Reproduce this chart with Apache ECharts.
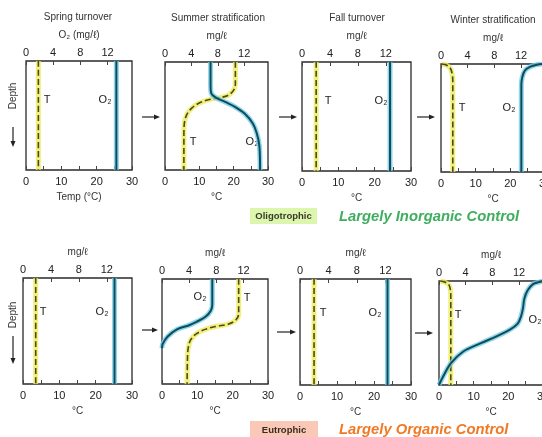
<!DOCTYPE html>
<html><head><meta charset="utf-8">
<script src="https://cdn.jsdelivr.net/npm/echarts@6/dist/echarts.min.js"></script>
<style>html,body{margin:0;padding:0;background:#fff}#c{width:542px;height:437px}</style>
</head><body><div id="c"></div>
<script>
// ---------- DATA (depth in % of lake depth, 0 = surface) ----------
const tempTickLabels = [0, 10, 20, 30];          // °C
const o2TickLabels = [0, 4, 8, 12];              // mg/ℓ
const panelTitles = ['Spring turnover', 'Summer stratification', 'Fall turnover', 'Winter stratification', '', '', '', ''];

// Oligotrophic – spring turnover
const oSpringTDepth = [0, 100];
const oSpringT = [3.5, 3.5];
const oSpringO2Depth = [0, 100];
const oSpringO2 = [13.3, 13.3];
// Oligotrophic – summer stratification
const oSummerTDepth = [0, 20, 26, 31, 33, 35, 38.5, 43, 49, 58, 70, 100];
const oSummerT = [20.5, 20.5, 20, 18.3, 16, 12.6, 9.7, 7.7, 6.3, 5.6, 5.5, 5.5];
const oSummerO2Depth = [0, 22, 29, 33, 37, 41.5, 48, 57, 66, 78, 100];
const oSummerO2 = [6.9, 6.9, 7.0, 7.7, 9.1, 10.6, 12.1, 13.3, 13.9, 14.3, 14.4];
// Oligotrophic – fall turnover
const oFallTDepth = [0, 100];
const oFallT = [3.9, 3.9];
const oFallO2Depth = [0, 100];
const oFallO2 = [12.6, 12.6];
// Oligotrophic – winter stratification
const oWinterTDepth = [0, 1, 4, 9, 15, 100];
const oWinterT = [0.3, 1.5, 2.7, 3.2, 3.4, 3.4];
const oWinterO2Depth = [0, 0, 0.6, 2.5, 6, 12, 19.5, 100];
const oWinterO2 = [16.5, 15.4, 14.4, 13.4, 12.6, 12.2, 12.05, 12.05];

// Eutrophic – spring turnover
const eSpringTDepth = [0, 100];
const eSpringT = [3.5, 3.5];
const eSpringO2Depth = [0, 100];
const eSpringO2 = [13.1, 13.1];
// Eutrophic – summer stratification
const eSummerTDepth = [0, 33, 39, 43, 45, 47.5, 52, 58, 66, 77, 100];
const eSummerT = [21.7, 21.7, 20.9, 18.7, 15.4, 12.6, 9.8, 8.1, 7.4, 7.2, 7.1];
const eSummerO2Depth = [0, 24, 30, 36, 41, 44, 48, 55, 62, 66];
const eSummerO2 = [7.4, 7.4, 7.2, 6.4, 5.0, 4.0, 2.2, 0.8, 0.1, 0];
// Eutrophic – fall turnover
const eFallTDepth = [0, 100];
const eFallT = [3.8, 3.8];
const eFallO2Depth = [0, 100];
const eFallO2 = [12.3, 12.3];
// Eutrophic – winter stratification
const eWinterTDepth = [0, 1, 4, 9, 14, 100];
const eWinterT = [0.4, 1.6, 2.9, 3.3, 3.4, 3.4];
const eWinterO2Depth = [0, 1, 3, 9, 17, 26, 34, 41, 46.5, 53, 60, 68, 79, 92, 100];
const eWinterO2 = [15.8, 15.0, 14.1, 13.3, 12.8, 12.6, 12.3, 11.8, 10.7, 8.7, 6.2, 3.6, 1.8, 0.6, 0];

const panelData = [
  [oSpringT, oSpringTDepth, oSpringO2, oSpringO2Depth],
  [oSummerT, oSummerTDepth, oSummerO2, oSummerO2Depth],
  [oFallT, oFallTDepth, oFallO2, oFallO2Depth],
  [oWinterT, oWinterTDepth, oWinterO2, oWinterO2Depth],
  [eSpringT, eSpringTDepth, eSpringO2, eSpringO2Depth],
  [eSummerT, eSummerTDepth, eSummerO2, eSummerO2Depth],
  [eFallT, eFallTDepth, eFallO2, eFallO2Depth],
  [eWinterT, eWinterTDepth, eWinterO2, eWinterO2Depth]
];

// ---------- LAYOUT ----------
const FONT = 'Liberation Sans';
const boxes = [ // left, top, width, height
  [26, 61, 106, 109], [165, 62, 103, 108], [302, 62, 109, 109], [441, 64, 104, 108],
  [23, 278, 109, 106], [162, 279, 106, 105], [300, 279, 111, 106], [439, 281, 104, 104]
];
const O2MAX = 15.6;

const grid = [], xAxis = [], yAxis = [], series = [];
const zip = (v, d) => v.map((x, i) => [x, d[i]]);

boxes.forEach((b, i) => {
  grid.push({left: b[0], top: b[1], width: b[2], height: b[3], show: true,
    outerBoundsMode: 'none', containLabel: false,
    borderColor: '#2a2a2a', borderWidth: 1.3, backgroundColor: 'transparent'});
  xAxis.push({ // temperature, bottom
    gridIndex: i, type: 'value', position: 'bottom', min: 0, max: 30, interval: 5,
    name: i === 0 ? 'Temp (°C)' : '°C', nameLocation: 'middle', nameGap: 22,
    nameTextStyle: {fontFamily: FONT, fontSize: 10, color: '#333'},
    axisLine: {show: false, onZero: false}, splitLine: {show: false}, minorTick: {show: false},
    axisTick: {show: true, inside: true, length: 4, lineStyle: {color: '#444'}},
    axisLabel: {fontFamily: FONT, fontSize: 11, color: '#222', margin: 6,
      formatter: v => tempTickLabels.includes(v) ? String(v) : ''}
  });
  xAxis.push({ // oxygen, top
    gridIndex: i, type: 'value', position: 'top', min: 0, max: O2MAX, interval: 4,
    name: i === 0 ? 'O₂ (mg/ℓ)' : 'mg/ℓ', nameLocation: 'middle', nameGap: 21,
    nameTextStyle: {fontFamily: FONT, fontSize: 10, color: '#333'},
    axisLine: {show: false, onZero: false}, splitLine: {show: false}, minorTick: {show: false},
    axisTick: {show: true, inside: true, length: 4, lineStyle: {color: '#444'}},
    axisLabel: {fontFamily: FONT, fontSize: 11, color: '#222', margin: 3, showMaxLabel: false,
      formatter: v => o2TickLabels.includes(v) ? String(v) : ''}
  });
  yAxis.push({gridIndex: i, type: 'value', min: 0, max: 100, inverse: true, show: false});

  const [T, Td, O, Od] = panelData[i];
  const common = {type: 'line', yAxisIndex: i, showSymbol: false, symbol: 'none', smooth: 0.35, animation: false, silent: true};
  series.push(Object.assign({}, common, {xAxisIndex: 2 * i, data: zip(T, Td),
    lineStyle: {color: 'rgba(238,236,90,0.8)', width: 5}}));
  series.push(Object.assign({}, common, {xAxisIndex: 2 * i, data: zip(T, Td),
    lineStyle: {color: '#4b4a1e', width: 1.6, type: [6, 3]}}));
  series.push(Object.assign({}, common, {xAxisIndex: 2 * i + 1, data: zip(O, Od),
    lineStyle: {color: 'rgba(110,205,230,0.8)', width: 5}}));
  series.push(Object.assign({}, common, {xAxisIndex: 2 * i + 1, data: zip(O, Od),
    lineStyle: {color: '#124a5a', width: 2}}));
});

// ---------- ANNOTATIONS ----------
const graphic = [];
const txt = (x, y, s, o) => graphic.push(Object.assign({type: 'text', x, y,
  style: Object.assign({text: s, fontFamily: FONT, fontSize: 11, fill: '#222', align: 'center', verticalAlign: 'middle'}, o || {})}));

// panel titles
const titlePos = [[78, 17], [218, 18], [357, 18], [493, 20]];
titlePos.forEach((p, i) => txt(p[0], p[1], panelTitles[i], {fontSize: 10, fill: '#333'}));

// curve labels
const curveLabels = [
  [47, 100, 'T'], [105, 100, 'O₂'], [193, 142, 'T'], [252, 142, 'O₂'],
  [328, 101, 'T'], [381, 101, 'O₂'], [462, 108, 'T'], [509, 108, 'O₂'],
  [43, 312, 'T'], [102, 312, 'O₂'], [200, 297, 'O₂'], [247, 298, 'T'],
  [323, 313, 'T'], [375, 313, 'O₂'], [458, 315, 'T'], [535, 320, 'O₂']
];
curveLabels.forEach(l => txt(l[0], l[1], l[2], {fontSize: 11}));

// horizontal arrows between panels
const hArrow = (x1, x2, y) => {
  graphic.push({type: 'line', shape: {x1, y1: y, x2: x2 - 4, y2: y}, style: {stroke: '#222', lineWidth: 1.2}});
  graphic.push({type: 'polygon', shape: {points: [[x2, y], [x2 - 6, y - 2.5], [x2 - 6, y + 2.5]]}, style: {fill: '#222'}});
};
[[142, 160, 117], [279, 297, 117], [417, 435, 117], [142, 158, 330], [277, 296, 332], [415, 433, 333]].forEach(a => hArrow(a[0], a[1], a[2]));

// depth labels with arrows
const depthLabel = (y, ay1, ay2) => {
  graphic.push({type: 'text', x: 13, y, rotation: Math.PI / 2,
    style: {text: 'Depth', fontFamily: FONT, fontSize: 10, fill: '#333', align: 'center', verticalAlign: 'middle'}});
  graphic.push({type: 'line', shape: {x1: 13, y1: ay1, x2: 13, y2: ay2 - 4}, style: {stroke: '#222', lineWidth: 1.2}});
  graphic.push({type: 'polygon', shape: {points: [[13, ay2], [10.5, ay2 - 6], [15.5, ay2 - 6]]}, style: {fill: '#222'}});
};
depthLabel(96, 127, 147);
depthLabel(315, 336, 364);

// classification tags
graphic.push({type: 'rect', shape: {x: 250, y: 208, width: 67, height: 16}, style: {fill: '#dcf6ae'}});
txt(283.5, 216.5, 'Oligotrophic', {fontSize: 9.5, fontWeight: 'bold', fill: '#3a3a2a'});
txt(339, 217, 'Largely Inorganic Control', {align: 'left', fontSize: 14.8, fontWeight: 'bold', fontStyle: 'italic', fill: '#3fae5e'});
graphic.push({type: 'rect', shape: {x: 250, y: 421, width: 68, height: 17}, style: {fill: '#f9c8b6'}});
txt(284, 430, 'Eutrophic', {fontSize: 9.5, fontWeight: 'bold', fill: '#3a2a22'});
txt(339, 430, 'Largely Organic Control', {align: 'left', fontSize: 14.8, fontWeight: 'bold', fontStyle: 'italic', fill: '#f07a26'});

const chart = echarts.init(document.getElementById('c'), null, {renderer: 'canvas'});
chart.setOption({backgroundColor: '#fff', animation: false, grid, xAxis, yAxis, series, graphic});
</script></body></html>
